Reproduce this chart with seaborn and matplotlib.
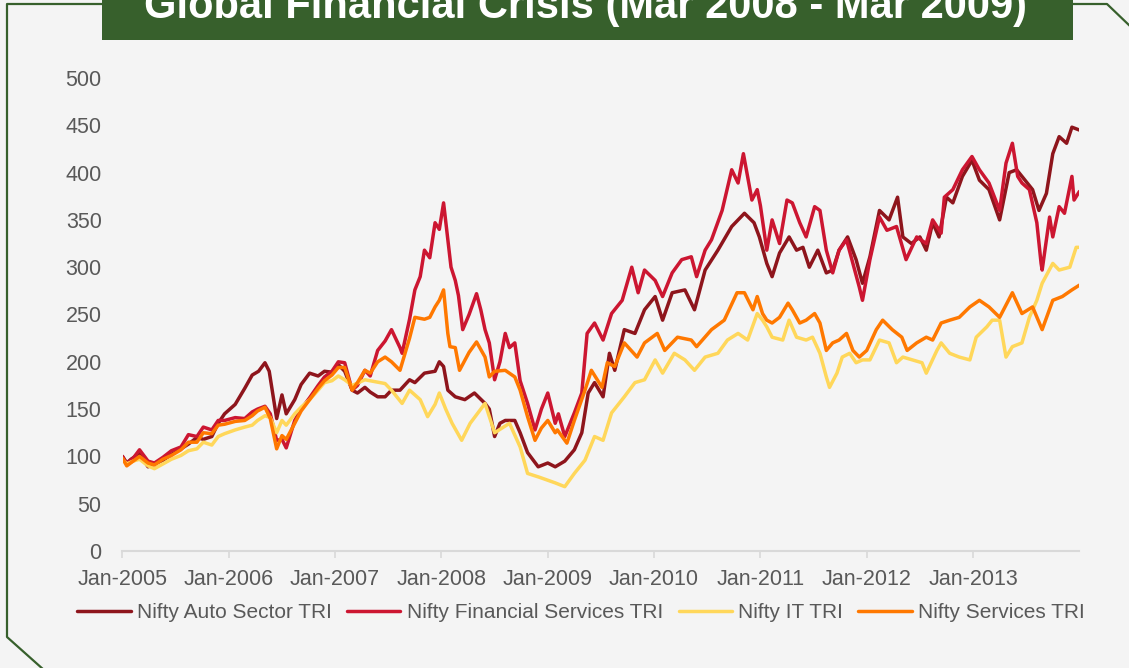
import numpy as np
import pandas as pd
import matplotlib
matplotlib.use("Agg")
import matplotlib.pyplot as plt
from matplotlib.lines import Line2D
from matplotlib.patches import Rectangle
import seaborn as sns

# ---------------- data (years since Jan-2005, index level) ----------------
series_names = ["Nifty Auto Sector TRI", "Nifty Financial Services TRI",
                "Nifty IT TRI", "Nifty Services TRI"]
series_colors = ["#8e151c", "#cc1631", "#ffd75a", "#ff7800"]

auto_years = [0, 0.04, 0.08, 0.16, 0.24, 0.30, 0.38, 0.46, 0.55, 0.62, 0.70, 0.76, 0.84, 0.90, 0.96,
              1.06, 1.15, 1.22, 1.28, 1.34, 1.38, 1.45, 1.50, 1.54, 1.62, 1.68, 1.76, 1.84, 1.90, 1.97,
              2.03, 2.09, 2.16, 2.21, 2.28, 2.33, 2.40, 2.47, 2.53, 2.61, 2.70, 2.75, 2.84, 2.94, 2.98,
              3.02, 3.06, 3.13, 3.22, 3.31, 3.41, 3.45, 3.50, 3.55, 3.60, 3.69, 3.74, 3.81, 3.91, 4.00,
              4.07, 4.16, 4.25, 4.32, 4.38, 4.44, 4.52, 4.58, 4.63, 4.72, 4.82, 4.91, 5.01, 5.08, 5.17,
              5.29, 5.38, 5.48, 5.60, 5.73, 5.85, 5.94, 5.99, 6.06, 6.11, 6.18, 6.27, 6.34, 6.40, 6.46,
              6.54, 6.62, 6.68, 6.74, 6.82, 6.90, 6.96, 7.03, 7.12, 7.21, 7.29, 7.34, 7.42, 7.50, 7.56,
              7.62, 7.68, 7.75, 7.81, 7.90, 7.99, 8.06, 8.15, 8.25, 8.34, 8.41, 8.46, 8.56, 8.62, 8.69,
              8.75, 8.81, 8.88, 8.93, 9.00]
auto_values = [100, 93, 97, 103, 89, 92, 96, 102, 108, 113, 120, 118, 121, 135, 145,
               155, 172, 186, 190, 199, 190, 140, 165, 145, 160, 176, 188, 185, 190, 189,
               197, 190, 170, 167, 173, 168, 163, 163, 170, 170, 181, 178, 188, 190, 200,
               195, 170, 163, 160, 167, 156, 150, 121, 135, 138, 138, 125, 104, 89, 93,
               89, 95, 107, 125, 167, 178, 163, 209, 191, 234, 230, 255, 269, 244, 273,
               276, 255, 297, 318, 343, 357, 347, 332, 304, 290, 315, 332, 318, 321, 300,
               318, 294, 297, 318, 332, 308, 283, 311, 360, 350, 374, 332, 325, 332, 318,
               347, 332, 374, 368, 396, 413, 392, 382, 350, 400, 403, 396, 382, 360, 378,
               420, 438, 431, 448, 445]

fin_years = [0, 0.04, 0.10, 0.16, 0.24, 0.30, 0.38, 0.46, 0.55, 0.62, 0.70, 0.76, 0.84, 0.90, 0.96,
             1.06, 1.15, 1.22, 1.27, 1.34, 1.39, 1.45, 1.50, 1.54, 1.62, 1.68, 1.76, 1.84, 1.90, 1.97,
             2.03, 2.09, 2.16, 2.21, 2.28, 2.33, 2.40, 2.47, 2.53, 2.61, 2.63, 2.70, 2.75, 2.80, 2.84,
             2.89, 2.94, 2.98, 3.02, 3.06, 3.09, 3.13, 3.16, 3.20, 3.26, 3.33, 3.37, 3.41, 3.45, 3.50,
             3.55, 3.60, 3.64, 3.69, 3.74, 3.81, 3.88, 3.94, 4.00, 4.07, 4.10, 4.16, 4.25, 4.32, 4.37,
             4.44, 4.52, 4.60, 4.70, 4.79, 4.85, 4.91, 5.01, 5.08, 5.17, 5.26, 5.35, 5.40, 5.48, 5.54,
             5.64, 5.73, 5.79, 5.84, 5.92, 5.97, 6.00, 6.06, 6.11, 6.18, 6.25, 6.30, 6.37, 6.43, 6.51,
             6.56, 6.62, 6.68, 6.74, 6.81, 6.87, 6.93, 6.96, 7.03, 7.12, 7.19, 7.28, 7.37, 7.47, 7.56,
             7.62, 7.70, 7.73, 7.81, 7.90, 7.99, 8.06, 8.15, 8.25, 8.31, 8.37, 8.42, 8.46, 8.53, 8.60,
             8.64, 8.65, 8.72, 8.75, 8.81, 8.86, 8.93, 8.95, 9.00]
fin_values = [100, 92, 98, 107, 95, 93, 99, 106, 110, 123, 121, 131, 128, 138, 138,
              141, 140, 147, 150, 153, 145, 117, 118, 109, 138, 150, 162, 175, 184, 190,
              200, 199, 170, 175, 191, 185, 212, 222, 234, 215, 209, 245, 276, 290, 318,
              310, 347, 340, 368, 329, 300, 286, 270, 234, 250, 272, 255, 234, 220, 181,
              200, 230, 215, 220, 180, 156, 128, 150, 167, 135, 145, 121, 146, 167, 230,
              241, 223, 251, 265, 300, 273, 297, 286, 269, 294, 308, 311, 290, 318, 329,
              360, 403, 389, 420, 371, 382, 365, 318, 350, 325, 371, 368, 347, 332, 364,
              360, 318, 294, 318, 329, 304, 279, 265, 308, 353, 339, 343, 308, 332, 325,
              350, 336, 374, 382, 403, 417, 403, 389, 360, 410, 431, 396, 389, 382, 347,
              304, 297, 353, 332, 364, 357, 396, 371, 380]

it_years = [0, 0.04, 0.10, 0.16, 0.24, 0.30, 0.38, 0.46, 0.55, 0.62, 0.70, 0.76, 0.84, 0.90, 0.96,
            1.06, 1.15, 1.22, 1.27, 1.34, 1.39, 1.45, 1.50, 1.54, 1.62, 1.68, 1.76, 1.84, 1.90, 1.97,
            2.03, 2.09, 2.16, 2.28, 2.47, 2.53, 2.63, 2.70, 2.80, 2.87, 2.94, 2.98, 3.04, 3.10, 3.19,
            3.27, 3.41, 3.50, 3.64, 3.74, 3.81, 3.92, 4.07, 4.16, 4.25, 4.35, 4.44, 4.52, 4.60, 4.72,
            4.82, 4.91, 5.01, 5.08, 5.19, 5.29, 5.38, 5.48, 5.60, 5.69, 5.79, 5.88, 5.97, 6.02, 6.06,
            6.11, 6.21, 6.27, 6.34, 6.43, 6.49, 6.56, 6.62, 6.65, 6.72, 6.77, 6.84, 6.90, 6.96, 7.03,
            7.12, 7.21, 7.28, 7.34, 7.43, 7.52, 7.56, 7.66, 7.70, 7.78, 7.87, 7.97, 8.03, 8.13, 8.18,
            8.25, 8.31, 8.37, 8.46, 8.53, 8.60, 8.65, 8.75, 8.81, 8.91, 8.97, 9.00]
it_values = [97, 92, 95, 97, 90, 87, 92, 97, 101, 106, 108, 115, 112, 121, 124,
             128, 131, 133, 138, 143, 141, 125, 138, 133, 145, 152, 160, 170, 178, 180,
             185, 181, 175, 181, 177, 170, 156, 170, 160, 142, 155, 167, 150, 135, 117,
             135, 156, 125, 135, 110, 82, 78, 72, 68, 82, 96, 121, 117, 146, 163,
             178, 181, 202, 188, 209, 202, 191, 205, 209, 223, 230, 223, 251, 244, 237,
             226, 223, 244, 226, 223, 226, 209, 184, 173, 188, 205, 209, 199, 202, 202,
             223, 220, 199, 205, 202, 199, 188, 212, 220, 209, 205, 202, 226, 237, 244,
             244, 205, 216, 220, 247, 265, 283, 304, 297, 300, 321, 321]

svc_years = [0, 0.04, 0.10, 0.16, 0.24, 0.30, 0.38, 0.46, 0.55, 0.62, 0.70, 0.76, 0.84, 0.90, 0.96,
             1.06, 1.15, 1.22, 1.27, 1.34, 1.39, 1.45, 1.50, 1.54, 1.62, 1.68, 1.76, 1.84, 1.90, 1.97,
             2.03, 2.09, 2.16, 2.21, 2.28, 2.33, 2.40, 2.47, 2.53, 2.61, 2.70, 2.75, 2.84, 2.89, 2.94,
             2.98, 3.02, 3.06, 3.08, 3.13, 3.17, 3.26, 3.33, 3.41, 3.45, 3.50, 3.60, 3.69, 3.74, 3.81,
             3.88, 3.94, 4.00, 4.07, 4.09, 4.18, 4.25, 4.35, 4.41, 4.51, 4.56, 4.63, 4.72, 4.84, 4.91,
             5.03, 5.10, 5.22, 5.35, 5.40, 5.54, 5.66, 5.78, 5.85, 5.93, 5.97, 6.02, 6.06, 6.11, 6.18,
             6.26, 6.30, 6.37, 6.43, 6.51, 6.56, 6.62, 6.68, 6.74, 6.81, 6.87, 6.93, 7.00, 7.09, 7.15,
             7.24, 7.33, 7.38, 7.47, 7.56, 7.62, 7.70, 7.78, 7.87, 7.97, 8.06, 8.15, 8.25, 8.37, 8.46,
             8.56, 8.65, 8.75, 8.84, 8.93, 9.00]
svc_values = [98, 90, 95, 100, 93, 91, 97, 101, 107, 115, 115, 125, 124, 133, 134,
              137, 138, 143, 148, 152, 140, 108, 122, 118, 135, 148, 160, 172, 180, 186,
              194, 194, 170, 178, 191, 188, 200, 205, 200, 191, 225, 247, 245, 247, 258,
              265, 276, 230, 216, 215, 191, 210, 221, 205, 184, 190, 191, 184, 170, 142,
              117, 130, 138, 125, 128, 114, 138, 170, 191, 173, 199, 195, 220, 205, 220,
              230, 212, 226, 223, 216, 234, 244, 273, 273, 255, 269, 251, 244, 241, 247,
              262, 255, 241, 244, 251, 241, 212, 220, 223, 230, 212, 205, 212, 234, 244,
              234, 226, 212, 220, 226, 223, 241, 244, 247, 258, 265, 258, 247, 273, 251,
              258, 234, 265, 269, 276, 281]

y_ticks = [0, 50, 100, 150, 200, 250, 300, 350, 400, 450, 500]
x_tick_years = [2005, 2006, 2007, 2008, 2009, 2010, 2011, 2012, 2013]
title_text = "Global Financial Crisis (Mar 2008 - Mar 2009)"

# ---------------- build table ----------------
start = pd.Timestamp("2005-01-01")
frames = []
for name, yrs, vals in zip(series_names,
                           [auto_years, fin_years, it_years, svc_years],
                           [auto_values, fin_values, it_values, svc_values]):
    pairs = list(zip(yrs, vals))
    d = pd.DataFrame(pairs, columns=["yr", "value"])
    d["date"] = start + pd.to_timedelta(d["yr"] * 365.25, unit="D")
    d["series"] = name
    frames.append(d)
df = pd.concat(frames, ignore_index=True)

# ---------------- style ----------------
sns.set_theme(style="white")
plt.rcParams["font.family"] = ["Liberation Sans", "DejaVu Sans"]
text_color = "#595959"
bg = "#f4f4f4"
green = "#37602c"
fs = 15.5

W, H = 1129, 668
fig = plt.figure(figsize=(W / 100, H / 100), dpi=100)
fig.patch.set_facecolor(bg)

ax = fig.add_axes([122.5 / W, 1 - 551 / H, (1079 - 122.5) / W, (551 - 78) / H])
ax.set_facecolor("none")

sns.lineplot(data=df, x="date", y="value", hue="series", hue_order=series_names,
             palette=dict(zip(series_names, series_colors)), estimator=None,
             linewidth=2.5, legend=False, ax=ax)

ax.set_xlim(start, pd.Timestamp("2013-12-31"))
ax.set_ylim(0, 500)
ax.set_yticks(y_ticks)
ax.set_yticklabels([str(v) for v in y_ticks])
ax.set_xticks([pd.Timestamp(f"{y}-01-01") for y in x_tick_years])
ax.set_xticklabels([f"Jan-{y}" for y in x_tick_years])
ax.set_xlabel("")
ax.set_ylabel("")
for s in ["top", "right", "left"]:
    ax.spines[s].set_visible(False)
ax.spines["bottom"].set_color("#d9d9d9")
ax.spines["bottom"].set_linewidth(1.5)
ax.tick_params(axis="x", length=5, width=1.2, color="#d9d9d9", pad=8,
               labelsize=fs, labelcolor=text_color, direction="out", bottom=True)
ax.tick_params(axis="y", length=0, pad=15, labelsize=fs, labelcolor=text_color)
ax.grid(False)

# legend
handles = [Line2D([0], [0], color=c, lw=2.5) for c in series_colors]
fig.legend(handles, series_names, loc="center", bbox_to_anchor=(581 / W, 1 - 613 / H),
           ncol=4, frameon=False, fontsize=15, labelcolor=text_color,
           handlelength=2.55, handletextpad=0.3, columnspacing=0.75)

# title banner
fig.add_artist(Rectangle((102 / W, 1 - 40 / H), (1073 - 102) / W, 40 / H + 0.01,
                         transform=fig.transFigure, facecolor=green, edgecolor="none", zorder=5))
fig.text(585 / W, 1 - 18 / H, title_text, ha="center", va="baseline", color="white",
         fontsize=30, fontweight="bold", zorder=6)

# frame lines with cut corners
fig.add_artist(Line2D([102 / W, 7 / W, 7 / W, 44 / W],
                      [1 - 4 / H, 1 - 4 / H, 1 - 637 / H, 1 - 670 / H],
                      transform=fig.transFigure, color=green, lw=1.6, zorder=4))
fig.add_artist(Line2D([1073 / W, 1107 / W, 1131 / W],
                      [1 - 4 / H, 1 - 4 / H, 1 - 27 / H],
                      transform=fig.transFigure, color=green, lw=1.6, zorder=4))

fig.savefig("out.png", dpi=100, facecolor=bg)
